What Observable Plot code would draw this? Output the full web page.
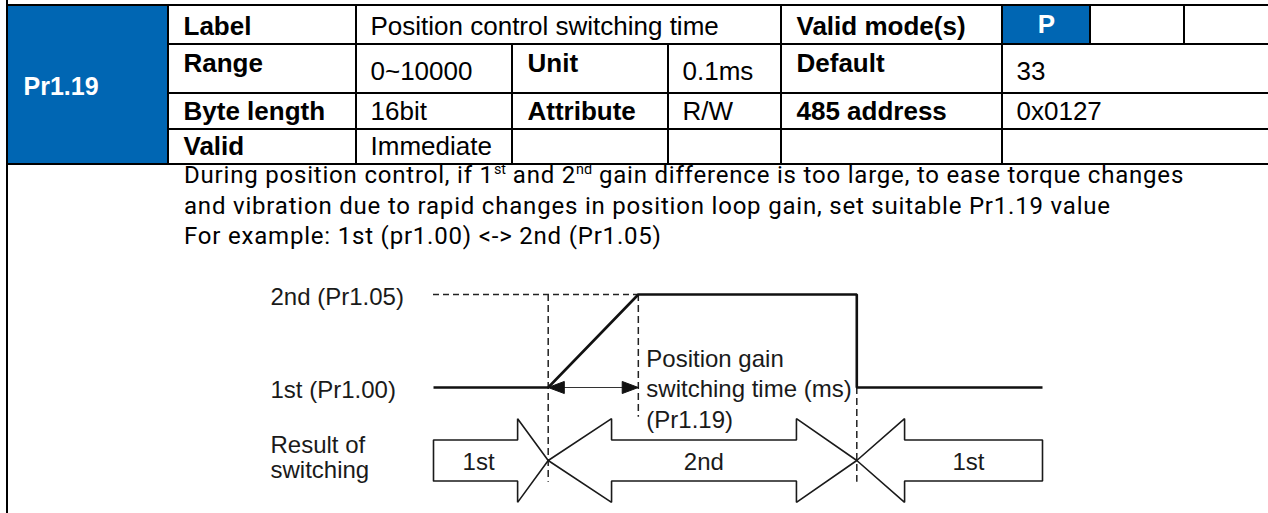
<!DOCTYPE html>
<html><head><meta charset="utf-8">
<script src="https://cdn.jsdelivr.net/npm/d3@7"></script>
<script src="https://cdn.jsdelivr.net/npm/@observablehq/plot@0.6"></script>
<style>
html,body{margin:0;padding:0;background:#fff;}
#wrap{width:1268px;height:513px;overflow:hidden;position:relative;background:#fff;}
#wrap svg{display:block;}
#edge{position:absolute;left:6px;top:0;width:2px;height:513px;background:#000;}
#desc{height:103px;box-sizing:border-box;padding-left:184px;font-family:Roboto,"Noto Sans",sans-serif;font-size:24px;letter-spacing:0.8px;line-height:30.5px;color:#000;}
#desc .inner{position:relative;top:-5px;white-space:nowrap;}
#desc sup{font-size:0.6em;line-height:0;vertical-align:0.6em;letter-spacing:0;}
</style></head><body><div id="wrap"></div>
<script>
// ---------- table content ----------
const paramCode = "Pr1.19";
const fieldNames = ["Label", "Range", "Byte length", "Valid"];
const fieldValues = ["Position control switching time", "0~10000", "16bit", "Immediate"];
const midNames = ["Unit", "Attribute", ""];
const midValues = ["0.1ms", "R/W", ""];
const rightNames = ["Valid mode(s)", "Default", "485 address", ""];
const rightValues = ["33", "0x0127", ""];
const validModes = ["P", "", ""];
const activeModes = ["P"];

// ---------- description ----------
const descriptionLines = [
  "During position control, if 1^st and 2^nd gain difference is too large, to ease torque changes",
  "and vibration due to rapid changes in position loop gain, set suitable Pr1.19 value",
  "For example: 1st (pr1.00) <-> 2nd (Pr1.05)"
];

// ---------- diagram data (time in ms; gain level 1 = 1st, 2 = 2nd) ----------
const levelNames = ["2nd (Pr1.05)", "1st (Pr1.00)", "Result of\nswitching"];
const levelValues = [2, 1, 0.215];
const gainTimes = [-4.2, 0, 3.3, 11.3, 11.3, 18.1];
const gainLevels = [1, 1, 2, 2, 1, 1];
const switchOn = 0, rampEnd = 3.3, switchOff = 11.3;
const spanLabel = "Position gain\nswitching time (ms)\n(Pr1.19)";
const resultNames = ["1st", "2nd", "1st"];
const resultStarts = [-4.2, 0, 11.3];
const resultEnds = [0, 11.3, 18.1];
const resultHeadStarts = [null, 2.32, 13.05];
const resultHeadEnds = [-1.12, 9.09, null];
const resultLabelAt = [-2.55, 5.7, 15.39];
const guideTimes = [0, 3.3, 11.3];
const guideTops = [2, 2, 1];
const guideBottoms = [-0.02, 0.68, -0.02];

// ---------- layout ----------
const W = 1268;
const blue = "#0066B3";
const tableFont = "Liberation Sans, Arial, sans-serif";
const colEdges = [7, 168, 356, 512, 668, 781, 1002, 1090, 1184, 1272];
const rowEdges = [5, 44, 93, 129, 164];
const nameY = [26, 63, 111, 146];
const valueY = [26, 71, 111, 146];
const bandCenter = levelValues[2], bodyHalf = 0.22, headHalf = 0.45;

const wrap = document.getElementById("wrap");

// ---------- table ----------
const cells = [];
function cell(c1, c2, r1, r2, text, kind, ty) {
  cells.push({x1: colEdges[c1], x2: colEdges[c2], y1: rowEdges[r1], y2: rowEdges[r2], text, kind, ty});
}
cell(0, 1, 0, 4, paramCode, "code", 86);
for (let r = 0; r < 4; r++) {
  cell(1, 2, r, r + 1, fieldNames[r], "name", nameY[r]);
  if (r === 0) {
    cell(2, 5, 0, 1, fieldValues[0], "value", valueY[0]);
  } else {
    cell(2, 3, r, r + 1, fieldValues[r], "value", valueY[r]);
    cell(3, 4, r, r + 1, midNames[r - 1], "name", nameY[r]);
    cell(4, 5, r, r + 1, midValues[r - 1], "value", valueY[r]);
  }
  cell(5, 6, r, r + 1, rightNames[r], "name", nameY[r]);
  if (r === 0) {
    validModes.forEach((m, i) => cell(6 + i, 7 + i, 0, 1, m, activeModes.includes(m) ? "mode" : "value", 24));
  } else {
    cell(6, 9, r, r + 1, rightValues[r - 1], "value", valueY[r]);
  }
}
const isBlue = d => d.kind === "code" || d.kind === "mode";
const txt = {y: "ty", text: "text", fontFamily: tableFont, fontSize: 26, lineAnchor: "middle"};

const table = Plot.plot({
  width: W, height: 165, margin: 0,
  x: {type: "linear", domain: [0, W], range: [0, W], axis: null},
  y: {type: "linear", domain: [0, 165], range: [0, 165], axis: null},
  style: {background: "white", overflow: "hidden"},
  marks: [
    Plot.rect(cells.filter(d => !isBlue(d)), {x1: "x1", x2: "x2", y1: "y1", y2: "y2", fill: "white", stroke: "black", strokeWidth: 2}),
    Plot.rect(cells.filter(isBlue), {x1: "x1", x2: "x2", y1: "y1", y2: "y2", fill: blue, stroke: "black", strokeWidth: 2}),
    Plot.text(cells.filter(d => d.kind === "name"), {...txt, x: "x1", dx: 15, textAnchor: "start", fontWeight: "bold", fill: "#000"}),
    Plot.text(cells.filter(d => d.kind === "value"), {...txt, x: "x1", dx: 14, textAnchor: "start", fill: "#000"}),
    Plot.text(cells.filter(d => d.kind === "code"), {...txt, x: "x1", dx: 16, textAnchor: "start", fontWeight: "bold", fontSize: 25, fill: "white"}),
    Plot.text(cells.filter(d => d.kind === "mode"), {...txt, x: d => (d.x1 + d.x2) / 2, textAnchor: "middle", fontWeight: "bold", fill: "white"})
  ]
});
wrap.appendChild(table);

// ---------- description ----------
const desc = document.createElement("div");
desc.id = "desc";
const inner = document.createElement("div");
inner.className = "inner";
descriptionLines.forEach(line => {
  const div = document.createElement("div");
  line.split(/(\^[a-z]+)/).forEach(part => {
    if (part.startsWith("^")) {
      const s = document.createElement("sup");
      s.textContent = part.slice(1);
      div.appendChild(s);
    } else if (part) {
      div.appendChild(document.createTextNode(part));
    }
  });
  inner.appendChild(div);
});
desc.appendChild(inner);
wrap.appendChild(desc);

// ---------- diagram ----------
const gain = gainTimes.map((t, i) => ({t, level: gainLevels[i]}));
const guides = guideTimes.map((t, i) => ({t, top: guideTops[i], bottom: guideBottoms[i]}));
const refLine = [{from: gainTimes[0], to: rampEnd, level: 2}];

const blocks = [];
resultNames.forEach((name, i) => {
  const s = resultStarts[i], e = resultEnds[i], hs = resultHeadStarts[i], he = resultHeadEnds[i];
  const c = bandCenter, B = bodyHalf, H = headHalf;
  const pts = [];
  if (hs != null) pts.push([s, c], [hs, c + H], [hs, c + B]); else pts.push([s, c - B], [s, c + B]);
  if (he != null) pts.push([he, c + B], [he, c + H], [e, c], [he, c - H], [he, c - B]); else pts.push([e, c + B], [e, c - B]);
  if (hs != null) pts.push([hs, c - B], [hs, c - H], [s, c]); else pts.push([s, c - B]);
  pts.forEach(([t, level]) => blocks.push({id: i, t, level}));
});
const blockLabels = resultNames.map((name, i) => ({name, t: resultLabelAt[i], level: bandCenter}));

const headLen = 0.59, headW = 0.065;
const heads = [
  {id: 0, t: switchOn, level: 1}, {id: 0, t: switchOn + headLen, level: 1 + headW}, {id: 0, t: switchOn + headLen, level: 1 - headW}, {id: 0, t: switchOn, level: 1},
  {id: 1, t: rampEnd, level: 1}, {id: 1, t: rampEnd - headLen, level: 1 + headW}, {id: 1, t: rampEnd - headLen, level: 1 - headW}, {id: 1, t: rampEnd, level: 1}
];
const levelLabelData = levelNames.map((label, i) => ({label, level: levelValues[i]}));
const dfont = {fontFamily: tableFont, fontSize: 24, fill: "#1a1a1a"};

const diagram = Plot.plot({
  width: W, height: 245, margin: 0,
  x: {type: "linear", domain: [-4.2, 18.1], range: [433, 1042], axis: null},
  y: {type: "linear", domain: [1, 2], range: [119, 26], axis: null},
  style: {background: "white", overflow: "hidden"},
  marks: [
    Plot.ruleY(refLine, {y: "level", x1: "from", x2: "to", stroke: "#222", strokeWidth: 1.5, strokeDasharray: "6,4"}),
    Plot.ruleX(guides, {x: "t", y1: "top", y2: "bottom", stroke: "#222", strokeWidth: 1.5, strokeDasharray: "7,4"}),
    Plot.line(gain, {x: "t", y: "level", stroke: "#111", strokeWidth: 2.6, strokeLinejoin: "miter", strokeLinecap: "butt"}),
    Plot.link([{a: switchOn, b: rampEnd, level: 1}], {x1: "a", x2: "b", y1: "level", y2: "level", stroke: "#333", strokeWidth: 1.2}),
    Plot.line(heads, {x: "t", y: "level", z: "id", fill: "#111", stroke: "#111", strokeWidth: 1}),
    Plot.line(blocks, {x: "t", y: "level", z: "id", fill: "white", stroke: "#1a1a1a", strokeWidth: 1.6, strokeLinejoin: "miter"}),
    Plot.text(blockLabels, {x: "t", y: "level", text: "name", dy: 2, ...dfont}),
    Plot.text([{t: rampEnd, level: 1, text: spanLabel}], {x: "t", y: "level", text: "text", dx: 8, textAnchor: "start", lineHeight: 1.27, lineAnchor: "middle", ...dfont}),
    Plot.text(levelLabelData.slice(0, 2), {y: "level", text: "label", frameAnchor: "left", dx: 270, dy: 3, textAnchor: "start", ...dfont}),
    Plot.text(levelLabelData.slice(2), {y: "level", text: "label", frameAnchor: "left", dx: 270, dy: -3, textAnchor: "start", lineHeight: 1.02, ...dfont})
  ]
});
wrap.appendChild(diagram);

const edge = document.createElement("div");
edge.id = "edge";
wrap.appendChild(edge);
</script></body></html>
